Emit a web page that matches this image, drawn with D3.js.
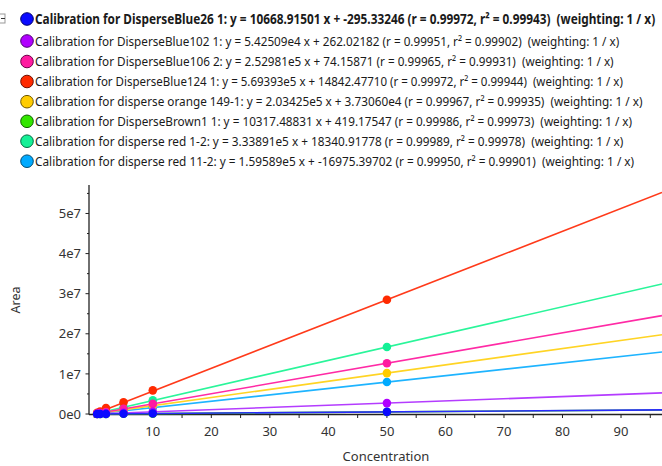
<!DOCTYPE html>
<html><head><meta charset="utf-8">
<script src="https://cdn.jsdelivr.net/npm/d3@7"></script>
<style>
body{margin:0;background:#fff;}
svg{display:block;}
text{font-family:"Noto Sans","Open Sans",sans-serif;}
</style></head>
<body><svg id="c" width="662" height="466"></svg>
<script>
// ---- data ----
const concentrations = [0.5, 1, 2, 5, 10, 50];
const seriesNames = ["DisperseBlue26 1","DisperseBlue102 1","DisperseBlue106 2","DisperseBlue124 1","disperse orange 149-1","DisperseBrown1 1","disperse red 1-2","disperse red 11-2"];
const slopes = [10668.91501, 5.42509e4, 2.52981e5, 5.69393e5, 2.03425e5, 10317.48831, 3.33891e5, 1.59589e5];
const intercepts = [-295.33246, 262.02182, 74.15871, 14842.47710, 3.73060e4, 419.17547, 18340.91778, -16975.39702];
const slopeLabels = ["10668.91501","5.42509e4","2.52981e5","5.69393e5","2.03425e5","10317.48831","3.33891e5","1.59589e5"];
const interceptLabels = ["-295.33246","262.02182","74.15871","14842.47710","3.73060e4","419.17547","18340.91778","-16975.39702"];
const rValues = ["0.99972","0.99951","0.99965","0.99972","0.99967","0.99986","0.99989","0.99950"];
const r2Values = ["0.99943","0.99902","0.99931","0.99944","0.99935","0.99973","0.99978","0.99901"];
const blue26Values   = [5.0e3, 1.05e4, 2.1e4, 5.3e4, 1.07e5, 5.3e5];
const blue102Values  = [2.7e4, 5.5e4, 1.09e5, 2.7e5, 5.5e5, 2.72e6];
const blue106Values  = [1.3e5, 2.5e5, 5.1e5, 1.27e6, 2.52e6, 1.266e7];
const blue124Values  = [2.9e5, 5.9e5, 1.5e6, 2.9e6, 5.9e6, 2.85e7];
const orangeValues   = [1.4e5, 2.4e5, 4.4e5, 1.06e6, 2.07e6, 1.02e7];
const brown1Values   = [5.5e3, 1.07e4, 2.1e4, 5.2e4, 1.03e5, 5.16e5];
const red12Values    = [1.8e5, 3.5e5, 6.9e5, 1.69e6, 3.4e6, 1.67e7];
const red112Values   = [6.5e4, 1.45e5, 3.0e5, 7.8e5, 1.6e6, 7.97e6];
const pointValues = [blue26Values, blue102Values, blue106Values, blue124Values, orangeValues, brown1Values, red12Values, red112Values];
const xTickValues = [10, 20, 30, 40, 50, 60, 70, 80, 90];
const yTickValues = [0, 1e7, 2e7, 3e7, 4e7, 5e7];
const yTickLabels = ["0e0","1e7","2e7","3e7","4e7","5e7"];

// ---- styles ----
const fillColors = ["#0a0aff","#b000ff","#ff1aa0","#ff2a00","#ffcc00","#33e600","#14f096","#00aaff"];
const lineColors = ["#2a2aff","#b43cff","#ff2aa5","#ff3a1a","#ffd424","#3ad40a","#2af59a","#1eb4ff"];
const strokeColors = ["#00006a","#4a0070","#70004a","#701000","#705800","#106000","#006a40","#004a70"];
const legendEnds = [656, 620, 614, 624, 643, 633, 624, 635];
const legendY = [19, 41, 61.5, 81.5, 101.7, 121.3, 141.2, 161.2];

const svg = d3.select("#c");
const x = d3.scaleLinear().domain([-0.9, 97.0]).range([89, 662]);
const y = d3.scaleLinear().domain([0, 5.71e7]).range([414, 185]);

// legend
svg.append("rect").attr("x",-3).attr("y",14).attr("width",8).attr("height",9).attr("fill","none").attr("stroke","#999");
svg.append("line").attr("x1",1).attr("x2",5).attr("y1",18.5).attr("y2",18.5).attr("stroke","#333");
seriesNames.forEach((n,i)=>{
  const g = svg.append("g");
  g.append("circle").attr("cx",27).attr("cy",legendY[i]).attr("r",6.3)
    .attr("fill",fillColors[i]).attr("stroke",strokeColors[i]).attr("stroke-width",1);
  const txt = `Calibration for ${n}: y = ${slopeLabels[i]} x + ${interceptLabels[i]} (r = ${rValues[i]}, r\u00B2 = ${r2Values[i]})  (weighting: 1 / x)`;
  const tg = g.append("g");
  const t = tg.append("text").attr("x",0).attr("y",0).attr("dy","0.36em")
    .attr("font-size", i===0 ? 13.5 : 13).attr("font-weight", i===0 ? "bold" : "normal")
    .attr("fill", "#1a1a1a").style("white-space","pre")
    .text(txt);
  const w = t.node().getComputedTextLength();
  const s = (legendEnds[i]-35) / w;
  tg.attr("transform", `translate(35,${legendY[i]}) scale(${s},1)`);
});

// clip
svg.append("clipPath").attr("id","plot").append("rect").attr("x",89).attr("y",180).attr("width",573).attr("height",240);

// axes
const gx = svg.append("g").attr("transform","translate(0,414.5)");
gx.append("line").attr("x1",89).attr("x2",662).attr("stroke","#222").attr("stroke-width",1.3);
gx.selectAll("line.t").data(d3.range(0, 97, 5)).join("line").attr("class","t")
  .attr("x1",d=>x(d)).attr("x2",d=>x(d)).attr("y1",0).attr("y2",3.5).attr("stroke","#222");
gx.selectAll("text").data(xTickValues).join("text")
  .attr("x",d=>x(d)).attr("y",17).attr("dy","0.36em").attr("text-anchor","middle")
  .attr("font-size",13).attr("fill","#333").text(d=>d);

const gy = svg.append("g").attr("transform","translate(89,0)");
gy.append("line").attr("y1",185).attr("y2",414.5).attr("stroke","#222").attr("stroke-width",1.3);
gy.selectAll("line.t").data(d3.range(0, 5.71e7, 5e6)).join("line").attr("class","t")
  .attr("x1",(d,i)=> i%2===0 ? -3.5 : -2).attr("x2",0).attr("y1",d=>y(d)).attr("y2",d=>y(d)).attr("stroke","#222");
gy.selectAll("text").data(yTickValues).join("text")
  .attr("x",-8).attr("y",d=>y(d)).attr("dy","0.36em").attr("text-anchor","end")
  .attr("font-size",13).attr("fill","#333").text((d,i)=>yTickLabels[i]);

svg.append("text").attr("transform","translate(15,300) rotate(-90)").attr("text-anchor","middle")
  .attr("dy","0.36em").attr("font-size",12.5).attr("fill","#333").text("Area");
svg.append("text").attr("x",386).attr("y",456).attr("dy","0.36em").attr("text-anchor","middle")
  .attr("font-size",13).attr("fill","#333").text("Concentration");

// lines and points (reverse order so first series is on top)
const plot = svg.append("g").attr("clip-path","url(#plot)");
const order = d3.range(seriesNames.length).reverse();
order.forEach(i=>{
  const xs = [0, 97];
  plot.append("path").attr("d", d3.line().x(d=>x(d)).y(d=>y(slopes[i]*d+intercepts[i]))(xs))
    .attr("fill","none").attr("stroke",lineColors[i]).attr("stroke-width",1.6);
});
order.forEach(i=>{
  plot.selectAll(null).data(concentrations.map((c,k)=>[c,pointValues[i][k]])).join("circle")
    .attr("cx",d=>x(d[0])).attr("cy",d=>y(d[1])).attr("r",4.3).attr("fill",fillColors[i]);
});
</script></body></html>
